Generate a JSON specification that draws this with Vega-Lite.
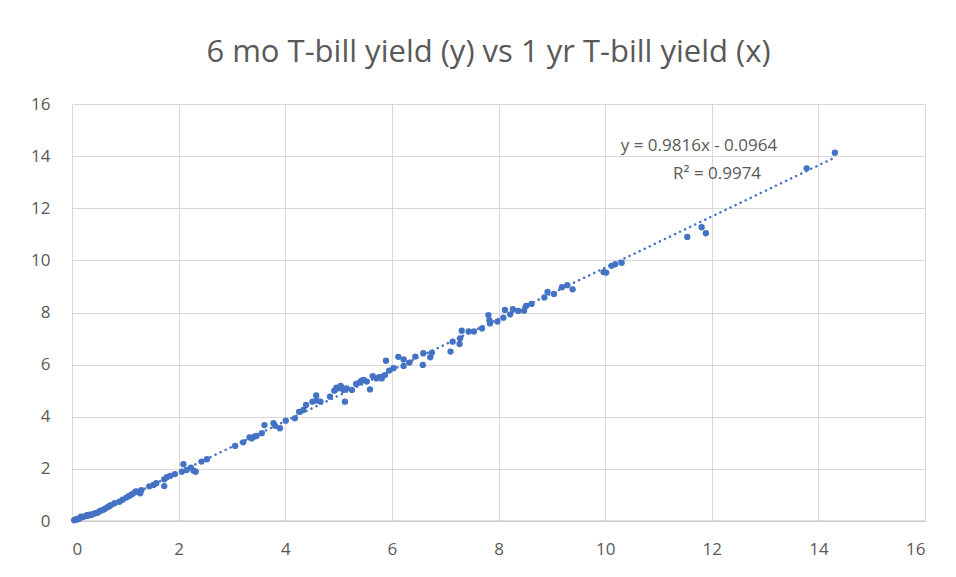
{
  "$schema": "https://vega.github.io/schema/vega-lite/v6.json",
  "autosize": "none",
  "width": 853,
  "height": 417,
  "padding": {"left": 72, "top": 104, "right": 31, "bottom": 56},
  "background": "white",
  "title": {
    "text": "6 mo T-bill yield (y) vs 1 yr T-bill yield (x)",
    "font": "Open Sans",
    "fontSize": 31,
    "fontWeight": "normal",
    "color": "#595959",
    "anchor": "middle",
    "dx": -10,
    "offset": 26
  },
  "config": {
    "view": {"stroke": null},
    "axis": {
      "labelFont": "Open Sans",
      "labelFontSize": 17,
      "labelColor": "#595959",
      "gridColor": "#D9D9D9",
      "gridWidth": 1,
      "ticks": false,
      "title": null,
      "domain": false
    }
  },
  "datasets": {
    "points": [
      {"x": 0.04, "y": 0.03}, {"x": 0.06, "y": 0.05}, {"x": 0.08, "y": 0.07}, {"x": 0.1, "y": 0.06},
      {"x": 0.12, "y": 0.09}, {"x": 0.14, "y": 0.1}, {"x": 0.16, "y": 0.14}, {"x": 0.17, "y": 0.17},
      {"x": 0.2, "y": 0.15}, {"x": 0.22, "y": 0.17}, {"x": 0.26, "y": 0.19}, {"x": 0.28, "y": 0.22},
      {"x": 0.3, "y": 0.2}, {"x": 0.33, "y": 0.24}, {"x": 0.36, "y": 0.23}, {"x": 0.4, "y": 0.27},
      {"x": 0.44, "y": 0.3}, {"x": 0.48, "y": 0.32}, {"x": 0.52, "y": 0.38}, {"x": 0.55, "y": 0.41},
      {"x": 0.58, "y": 0.42}, {"x": 0.62, "y": 0.47}, {"x": 0.67, "y": 0.53}, {"x": 0.7, "y": 0.57},
      {"x": 0.73, "y": 0.61}, {"x": 0.8, "y": 0.68}, {"x": 0.89, "y": 0.74}, {"x": 0.95, "y": 0.82},
      {"x": 1.02, "y": 0.9}, {"x": 1.07, "y": 0.96}, {"x": 1.12, "y": 1.02}, {"x": 1.17, "y": 1.09},
      {"x": 1.2, "y": 1.14}, {"x": 1.23, "y": 1.12}, {"x": 1.28, "y": 1.06}, {"x": 1.3, "y": 1.18},
      {"x": 1.45, "y": 1.33}, {"x": 1.53, "y": 1.38}, {"x": 1.58, "y": 1.45}, {"x": 1.73, "y": 1.6},
      {"x": 1.73, "y": 1.34}, {"x": 1.78, "y": 1.68}, {"x": 1.84, "y": 1.73}, {"x": 1.93, "y": 1.8},
      {"x": 2.06, "y": 1.89}, {"x": 2.09, "y": 2.18}, {"x": 2.15, "y": 1.96}, {"x": 2.23, "y": 2.05},
      {"x": 2.28, "y": 1.93}, {"x": 2.32, "y": 1.89}, {"x": 2.43, "y": 2.28}, {"x": 2.53, "y": 2.37},
      {"x": 3.06, "y": 2.88}, {"x": 3.21, "y": 3.02}, {"x": 3.33, "y": 3.21}, {"x": 3.37, "y": 3.17},
      {"x": 3.42, "y": 3.24}, {"x": 3.46, "y": 3.26}, {"x": 3.56, "y": 3.37}, {"x": 3.61, "y": 3.68},
      {"x": 3.78, "y": 3.75}, {"x": 3.81, "y": 3.65}, {"x": 3.9, "y": 3.56}, {"x": 4.01, "y": 3.85},
      {"x": 4.18, "y": 3.94}, {"x": 4.26, "y": 4.19}, {"x": 4.34, "y": 4.26}, {"x": 4.39, "y": 4.45},
      {"x": 4.51, "y": 4.58}, {"x": 4.58, "y": 4.82}, {"x": 4.59, "y": 4.62}, {"x": 4.66, "y": 4.58},
      {"x": 4.84, "y": 4.77}, {"x": 4.92, "y": 5.0}, {"x": 4.96, "y": 5.12}, {"x": 4.99, "y": 5.09},
      {"x": 5.04, "y": 5.18}, {"x": 5.07, "y": 5.1}, {"x": 5.09, "y": 5.03}, {"x": 5.12, "y": 4.58},
      {"x": 5.15, "y": 5.09}, {"x": 5.25, "y": 5.03}, {"x": 5.33, "y": 5.26}, {"x": 5.39, "y": 5.31},
      {"x": 5.43, "y": 5.38}, {"x": 5.47, "y": 5.41}, {"x": 5.53, "y": 5.35}, {"x": 5.59, "y": 5.05},
      {"x": 5.64, "y": 5.56}, {"x": 5.71, "y": 5.47}, {"x": 5.76, "y": 5.52}, {"x": 5.81, "y": 5.47},
      {"x": 5.87, "y": 5.6}, {"x": 5.89, "y": 6.15}, {"x": 5.95, "y": 5.77}, {"x": 6.03, "y": 5.86},
      {"x": 6.12, "y": 6.3}, {"x": 6.22, "y": 6.2}, {"x": 6.22, "y": 5.95}, {"x": 6.33, "y": 6.08},
      {"x": 6.44, "y": 6.31}, {"x": 6.58, "y": 5.99}, {"x": 6.59, "y": 6.44}, {"x": 6.72, "y": 6.28},
      {"x": 6.75, "y": 6.46}, {"x": 7.1, "y": 6.5}, {"x": 7.14, "y": 6.88}, {"x": 7.27, "y": 6.79},
      {"x": 7.28, "y": 7.01}, {"x": 7.31, "y": 7.3}, {"x": 7.44, "y": 7.27}, {"x": 7.54, "y": 7.27},
      {"x": 7.69, "y": 7.39}, {"x": 7.81, "y": 7.9}, {"x": 7.83, "y": 7.71}, {"x": 7.84, "y": 7.58},
      {"x": 7.98, "y": 7.65}, {"x": 8.09, "y": 7.8}, {"x": 8.12, "y": 8.1}, {"x": 8.22, "y": 7.93},
      {"x": 8.27, "y": 8.13}, {"x": 8.37, "y": 8.06}, {"x": 8.48, "y": 8.07}, {"x": 8.52, "y": 8.25},
      {"x": 8.62, "y": 8.33}, {"x": 8.86, "y": 8.58}, {"x": 8.92, "y": 8.79}, {"x": 9.04, "y": 8.71},
      {"x": 9.19, "y": 8.97}, {"x": 9.29, "y": 9.05}, {"x": 9.39, "y": 8.89}, {"x": 9.97, "y": 9.55},
      {"x": 10.02, "y": 9.53}, {"x": 10.12, "y": 9.79}, {"x": 10.19, "y": 9.85}, {"x": 10.31, "y": 9.91},
      {"x": 11.54, "y": 10.9}, {"x": 11.81, "y": 11.27}, {"x": 11.89, "y": 11.04}, {"x": 13.78, "y": 13.53},
      {"x": 14.31, "y": 14.13}
    ],
    "trend": [
      {"x": 0.04, "y": -0.057},
      {"x": 14.31, "y": 13.95}
    ],
    "notes": [
      {"x": 11.76, "y": 14.39, "label": "y = 0.9816x - 0.0964"},
      {"x": 12.1, "y": 13.32, "label": "R² = 0.9974"}
    ]
  },
  "layer": [
    {
      "data": {"values": [{"y": 0}]},
      "mark": {"type": "rule", "color": "#BFBFBF", "strokeWidth": 1},
      "encoding": {"y": {"field": "y", "type": "quantitative", "scale": {"domain": [0, 16]}}}
    },
    {
      "data": {"name": "trend"},
      "mark": {"type": "line", "color": "#4472C4", "strokeWidth": 2.5, "strokeCap": "round", "strokeDash": [0.1, 5.5], "clip": true},
      "encoding": {
        "x": {"field": "x", "type": "quantitative"},
        "y": {"field": "y", "type": "quantitative"}
      }
    },
    {
      "data": {"name": "points"},
      "mark": {"type": "circle", "color": "#4472C4", "opacity": 1, "size": 40},
      "encoding": {
        "x": {
          "field": "x", "type": "quantitative",
          "scale": {"domain": [0, 16], "nice": false, "zero": false},
          "axis": {"values": [0, 2, 4, 6, 8, 10, 12, 14, 16], "labelPadding": 20, "grid": true}
        },
        "y": {
          "field": "y", "type": "quantitative",
          "scale": {"domain": [0, 16], "nice": false, "zero": false},
          "axis": {"values": [0, 2, 4, 6, 8, 10, 12, 14, 16], "labelPadding": 22, "grid": true}
        }
      }
    },
    {
      "data": {"name": "notes"},
      "mark": {"type": "text", "font": "Open Sans", "fontSize": 17, "color": "#595959", "align": "center", "baseline": "middle"},
      "encoding": {
        "x": {"field": "x", "type": "quantitative"},
        "y": {"field": "y", "type": "quantitative"},
        "text": {"field": "label"}
      }
    }
  ]
}
